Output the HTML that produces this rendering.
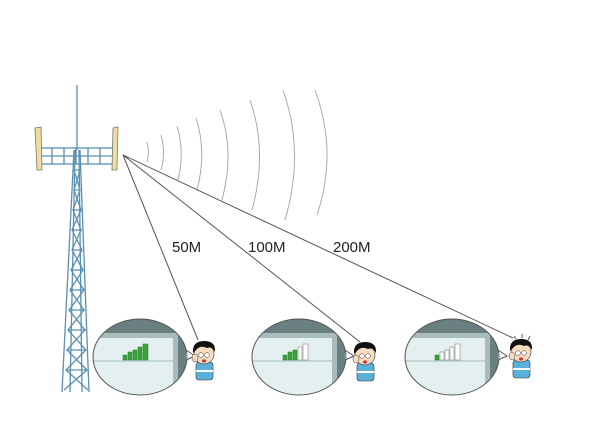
<!DOCTYPE html>
<html><head><meta charset="utf-8"><style>html,body{margin:0;padding:0;background:#fff}svg{display:block}</style></head><body>
<svg width="600" height="422" viewBox="0 0 600 422" xmlns="http://www.w3.org/2000/svg">
<defs>
<clipPath id="c1"><ellipse cx="140" cy="357" rx="47" ry="38"/></clipPath>
<clipPath id="c2"><ellipse cx="299" cy="357" rx="47" ry="38"/></clipPath>
<clipPath id="c3"><ellipse cx="452" cy="357" rx="47" ry="38"/></clipPath>
<g id="scr">
<rect x="-50" y="-40" width="100" height="80" fill="#e4f0f0"/>
<path d="M-50,-24 L38,-24 L38,40 L50,40 L50,-40 L-50,-40Z" fill="#6a8080"/>
<path d="M-50,-19 L33,-19 L33,40 L38,40 L38,-24 L-50,-24Z" fill="#a8bcbc"/>
<line x1="-50" y1="4" x2="33" y2="4" stroke="#8aa" stroke-width="0.8"/>
</g>
<g id="man">
<rect x="-8" y="8" width="17" height="18" rx="3" fill="#5ab0d8" stroke="#333" stroke-width="0.6"/>
<rect x="-8" y="16" width="17" height="2" fill="#fff"/>
<circle cx="0" cy="0" r="10" fill="#f8dcc0" stroke="#333" stroke-width="0.6"/>
<path d="M-11,-1 Q-12,-13 0,-13 Q12,-13 11,-2 Q8,-8 3,-6 Q-3,-9 -7,-5 Q-9,-3 -11,-1Z" fill="#111"/>
<circle cx="-3" cy="1" r="2.3" fill="#fff" stroke="#333" stroke-width="0.5"/>
<circle cx="3" cy="1" r="2.3" fill="#fff" stroke="#333" stroke-width="0.5"/>
<ellipse cx="0" cy="7" rx="2" ry="1.6" fill="#c33"/>
<ellipse cx="-9" cy="4" rx="3" ry="4" fill="#f8dcc0" stroke="#333" stroke-width="0.5"/>
</g>
</defs>

<g stroke="#5a8fb0" stroke-width="1.3" fill="none">
<line x1="77" y1="85" x2="77" y2="150"/>
<line x1="74" y1="150" x2="62" y2="392"/>
<line x1="80" y1="150" x2="89" y2="392"/>
<line x1="75" y1="150" x2="70" y2="392"/>
<line x1="79" y1="150" x2="82" y2="392"/>
<path d="M74,170 L80,190 L73,210 L81,230 L72,250 L83,270 L70,290 L84,310 L68,330 L86,350 L66,370 L88,390"/>
<path d="M80,170 L74,190 L81,210 L72,230 L82,250 L71,270 L84,290 L69,310 L85,330 L67,350 L87,370 L64,390"/>
<path d="M74,170 H80 M74,190 H80 M73,210 H81 M72,230 H82 M72,250 H82 M71,270 H83 M70,290 H84 M69,310 H85 M68,330 H86 M67,350 H86 M66,370 H87"/>
<rect x="40" y="148" width="76" height="16"/>
<path d="M52,148 V164 M64,148 V164 M76,148 V164 M88,148 V164 M100,148 V164 M40,156 H116"/>
</g>
<path d="M35,128 L41,127 L42,170 L37,170Z" fill="#f1dca0" stroke="#777" stroke-width="0.8"/>
<path d="M113,128 L118,127 L117,170 L112,170Z" fill="#f1dca0" stroke="#777" stroke-width="0.8"/>

<g stroke="#aaa" stroke-width="1" fill="none">
<path d="M147,142 Q150,152 147,162"/>
<path d="M161,135 Q166,152 161,170"/>
<path d="M177,126 Q185,152 178,180"/>
<path d="M196,118 Q207,152 197,190"/>
<path d="M220,110 Q235,152 222,200"/>
<path d="M250,100 Q268,152 252,210"/>
<path d="M283,90 Q305,152 285,220"/>
<path d="M315,90 Q338,152 317,215"/>
</g>

<g stroke="#555" stroke-width="1">
<line x1="123" y1="155" x2="198" y2="340"/>
<line x1="123" y1="155" x2="360" y2="342"/>
<line x1="123" y1="155" x2="513" y2="338"/>
</g>
<g font-family="Liberation Sans, sans-serif" font-size="15" fill="#222">
<text x="172" y="252">50M</text>
<text x="248" y="252">100M</text>
<text x="333" y="252">200M</text>
</g>

<g clip-path="url(#c1)"><use href="#scr" x="140" y="357"/></g>
<g clip-path="url(#c2)"><use href="#scr" x="299" y="357"/></g>
<g clip-path="url(#c3)"><use href="#scr" x="452" y="357"/></g>
<g fill="#fff" stroke="#555" stroke-width="1">
<path d="M186,350 L195,356 L186,360"/>
<path d="M345,350 L354,356 L345,360"/>
<path d="M498,350 L507,356 L498,360"/>
</g>
<g fill="none" stroke="#555" stroke-width="1">
<ellipse cx="140" cy="357" rx="47" ry="38"/>
<ellipse cx="299" cy="357" rx="47" ry="38"/>
<ellipse cx="452" cy="357" rx="47" ry="38"/>
</g>
<g fill="#3aa33a" stroke="#287a28" stroke-width="0.5">
<rect x="123" y="355" width="4" height="5"/><rect x="128" y="352" width="4" height="8"/><rect x="133" y="350" width="4" height="10"/><rect x="138" y="347" width="4" height="13"/><rect x="143" y="344" width="5" height="16"/>
<rect x="283" y="355" width="4" height="5"/><rect x="288" y="352" width="4" height="8"/><rect x="293" y="350" width="4" height="10"/>
<rect x="435" y="355" width="4" height="5"/>
</g>
<g fill="#fff" stroke="#888" stroke-width="0.6">
<rect x="298" y="347" width="4" height="13"/><rect x="303" y="344" width="5" height="16"/>
<rect x="440" y="352" width="4" height="8"/><rect x="445" y="350" width="4" height="10"/><rect x="450" y="347" width="4" height="13"/><rect x="455" y="344" width="5" height="16"/>
</g>

<use href="#man" x="204" y="354"/>
<use href="#man" x="365" y="355"/>
<use href="#man" x="521" y="352"/>
<g stroke="#555" stroke-width="1"><line x1="514" y1="336" x2="516" y2="339"/><line x1="522" y1="334" x2="522" y2="338"/><line x1="530" y1="336" x2="528" y2="340"/></g>
</svg>
</body></html>
